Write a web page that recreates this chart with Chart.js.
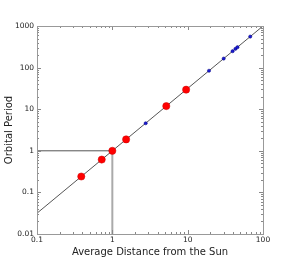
<!DOCTYPE html>
<html lang="en">
<head>
<meta charset="UTF-8">
<title>Kepler's Third Law</title>
<script src="https://cdn.jsdelivr.net/npm/chart.js"></script>
<style>
  html, body { margin: 0; padding: 0; background: #ffffff; }
  #wrap { width: 292px; height: 261px; }
</style>
</head>
<body>
<div id="wrap"><canvas id="chart" width="292" height="261"></canvas></div>
<script>
// Planets (AU, years)
const planetDist = [0.387, 0.723, 1.0, 1.524, 5.203, 9.537];
const planetPeriod = [0.241, 0.615, 1.0, 1.881, 11.86, 29.46];
// Dwarf planets / outer bodies
const smallDist = [2.77, 19.19, 30.07, 39.48, 43.1, 45.8, 67.7];
const smallPeriod = [4.6, 84.0, 164.8, 248.0, 283.0, 309.0, 557.0];
// Kepler line end points, and Earth guide lines
const lineDist = [0.1, 100];
const linePeriod = [0.0316, 1000];
const guideH = [[0.1, 1], [1, 1]];
const guideV = [[1, 0.01], [1, 1]];
const xTicks = [0.1, 1, 10, 100];
const yTicks = [0.01, 0.1, 1, 10, 100, 1000];

const toPts = (xs, ys) => xs.map((x, i) => ({ x: x, y: ys[i] }));
const fmt = v => String(v);

// inward major/minor ticks on all sides, matplotlib style
const tickPlugin = {
  id: 'inTicks',
  afterDraw(chart) {
    const c = chart.ctx, a = chart.chartArea;
    const xs = chart.scales.x, ys = chart.scales.y;
    c.save();
    c.strokeStyle = '#888';
    c.lineWidth = 1;
    c.beginPath();
    for (let d = -1; d < 2; d++) {
      for (let m = 1; m <= 10; m++) {
        const v = m * Math.pow(10, d);
        const px = Math.round(xs.getPixelForValue(v)) + 0.5;
        const len = (m === 1 || m === 10) ? 4 : 2;
        c.moveTo(px, a.bottom); c.lineTo(px, a.bottom - len);
        c.moveTo(px, a.top); c.lineTo(px, a.top + len);
      }
    }
    for (let d = -2; d < 3; d++) {
      for (let m = 1; m <= 10; m++) {
        const v = m * Math.pow(10, d);
        const py = Math.round(ys.getPixelForValue(v)) + 0.5;
        const len = (m === 1 || m === 10) ? 4 : 2;
        c.moveTo(a.left, py); c.lineTo(a.left + len, py);
        c.moveTo(a.right, py); c.lineTo(a.right - len, py);
      }
    }
    c.stroke();
    c.strokeStyle = '#999';
    c.strokeRect(a.left + 0.5, a.top + 0.5, a.right - a.left, a.bottom - a.top);
    c.restore();
  }
};

new Chart(document.getElementById('chart'), {
  type: 'scatter',
  data: {
    datasets: [
      { type: 'line', data: toPts(lineDist, linePeriod), borderColor: '#555', borderWidth: 1, pointRadius: 0, order: 5 },
      { type: 'line', data: guideV.map(p => ({ x: p[0], y: p[1] })), borderColor: '#aaa', borderWidth: 2, pointRadius: 0, order: 4 },
      { type: 'line', data: guideH.map(p => ({ x: p[0], y: p[1] })), borderColor: '#555', borderWidth: 1, pointRadius: 0, order: 3 },
      { data: toPts(smallDist, smallPeriod), backgroundColor: '#1a1ad0', borderColor: '#000080', borderWidth: 0.5, pointRadius: 1.6, order: 2 },
      { data: toPts(planetDist, planetPeriod), backgroundColor: '#ff0000', borderColor: '#cc0000', borderWidth: 0.5, pointRadius: 3.6, order: 1 }
    ]
  },
  options: {
    responsive: false,
    animation: false,
    layout: { padding: { top: 26, right: 29, left: 0, bottom: 0 } },
    plugins: { legend: { display: false }, tooltip: { enabled: false } },
    scales: {
      x: {
        type: 'logarithmic', min: 0.1, max: 100,
        afterBuildTicks: s => { s.ticks = xTicks.map(v => ({ value: v })); },
        afterFit: s => { s.height = 27; },
        grid: { display: false, drawTicks: false },
        border: { display: false },
        ticks: { callback: fmt, color: '#222', font: { family: 'DejaVu Sans', size: 7.5 }, padding: 2, maxRotation: 0, autoSkip: false },
        title: { display: true, text: 'Average Distance from the Sun', color: '#222', font: { family: 'DejaVu Sans', size: 10 }, padding: { top: 0, bottom: 3 } }
      },
      y: {
        type: 'logarithmic', min: 0.01, max: 1000,
        afterBuildTicks: s => { s.ticks = yTicks.map(v => ({ value: v })); },
        afterFit: s => { s.width = 37; },
        grid: { display: false, drawTicks: false },
        border: { display: false },
        ticks: { callback: fmt, color: '#222', font: { family: 'DejaVu Sans', size: 7.5 }, padding: 3, autoSkip: false },
        title: { display: true, text: 'Orbital Period', color: '#222', font: { family: 'DejaVu Sans', size: 10 }, padding: { top: 3, bottom: 0 } }
      }
    }
  },
  plugins: [tickPlugin]
});
</script>
</body>
</html>
